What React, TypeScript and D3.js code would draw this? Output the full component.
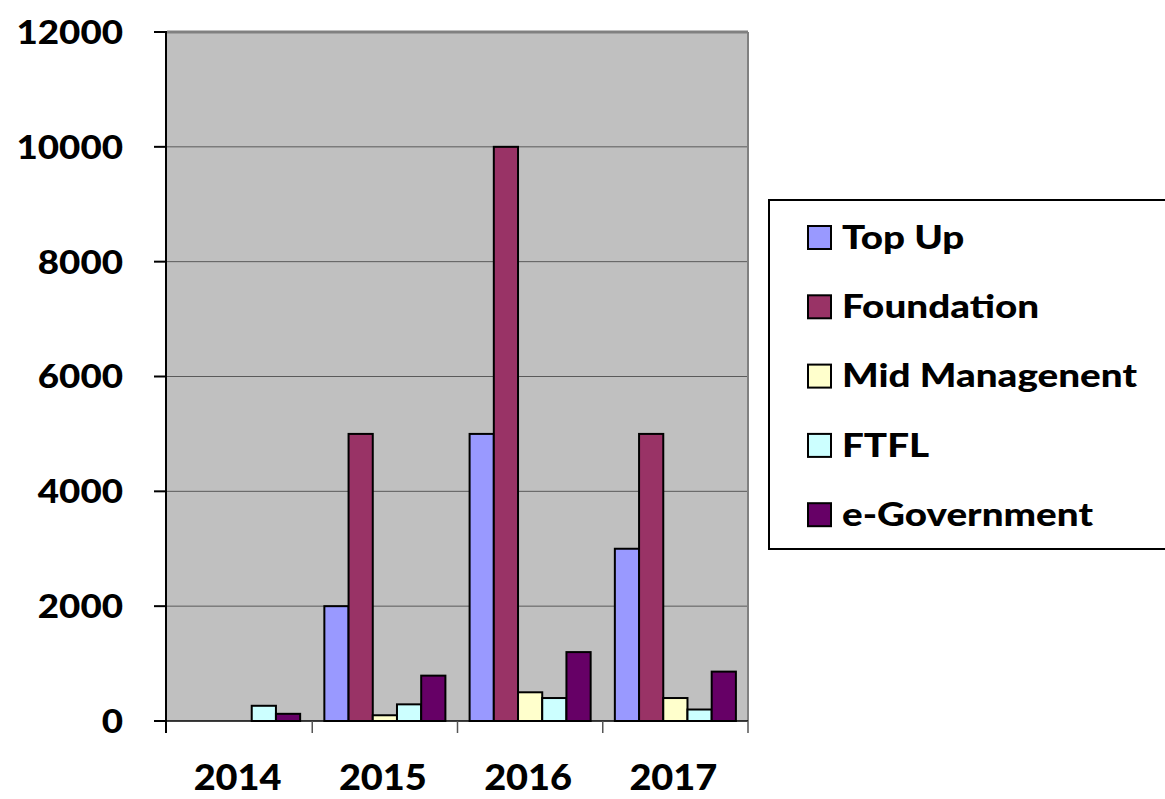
import React from "react";
import * as d3 from "d3";

const categories = ["2014", "2015", "2016", "2017"];
const seriesNames = ["Top Up", "Foundation", "Mid Managenent", "FTFL", "e-Government"];
const topUp = [0, 2000, 5000, 3000];
const foundation = [0, 5000, 10000, 5000];
const midManagement = [0, 100, 500, 400];
const ftfl = [265, 290, 400, 200];
const eGovernment = [125, 790, 1200, 860];
const yTicks = [0, 2000, 4000, 6000, 8000, 10000, 12000];
const colors = ["#9999FF", "#993366", "#FFFFCC", "#CCFFFF", "#660066"];

const seriesValues = [topUp, foundation, midManagement, ftfl, eGovernment];

export default function App() {
  const W = 1165, H = 799;
  const left = 167, right = 748, top = 32, bottom = 721;
  const x = d3.scaleBand<string>().domain(categories).range([left, right]);
  const inner = d3.scaleBand<number>().domain(d3.range(5)).range([0, x.bandwidth()]).paddingOuter(0.5).paddingInner(0);
  const y = d3.scaleLinear().domain([0, 12000]).range([bottom, top]);
  const font = "Lato, 'Open Sans', sans-serif";

  return (
    <svg width={W} height={H} style={{ position: "absolute", left: 0, top: 0, background: "#fff" }}>
      <rect x={left} y={top} width={right - left} height={bottom - top} fill="#C0C0C0" />
      {yTicks.filter(t => t > 0).map(t => (
        <line key={t} x1={left} x2={right} y1={y(t)} y2={y(t)} stroke={t === 12000 ? "#808080" : "#5a5a5a"} strokeWidth={t === 12000 ? 3 : 1} />
      ))}
      <line x1={right} x2={right} y1={top} y2={bottom} stroke="#808080" strokeWidth={2} />
      {categories.map((c, ci) =>
        seriesValues.map((vals, si) => {
          const v = vals[ci];
          if (!v) return null;
          const bx = (x(c) as number) + (inner(si) as number);
          return (
            <rect key={c + si} x={bx} y={y(v)} width={inner.bandwidth()} height={bottom - y(v)}
              fill={colors[si]} stroke="#000" strokeWidth={2} />
          );
        })
      )}
      <line x1={left - 1} x2={left - 1} y1={top} y2={bottom + 12} stroke="#000" strokeWidth={2} />
      <line x1={left - 13} x2={right} y1={bottom} y2={bottom} stroke="#000" strokeWidth={1.5} />
      {yTicks.map(t => (
        <g key={t}>
          <line x1={left - 13} x2={left} y1={y(t)} y2={y(t)} stroke="#000" strokeWidth={2} />
          <text x={123} y={y(t)} dy="0.36em" textAnchor="end" fontFamily={font} fontWeight={900} fontSize={33}
            textLength={String(t).length * 21.3} lengthAdjust="spacingAndGlyphs" fill="#000">{t}</text>
        </g>
      ))}
      {categories.map((c) => (
        <g key={c}>
          <line x1={(x(c) as number) + x.bandwidth()} x2={(x(c) as number) + x.bandwidth()} y1={bottom} y2={bottom + 12} stroke="#555" strokeWidth={1.5} />
          <text x={(x(c) as number) + x.bandwidth() / 2 - 2} y={777} dy="0.36em" textAnchor="middle" fontFamily={font} fontWeight={900} fontSize={36}
            textLength={88} lengthAdjust="spacingAndGlyphs" fill="#000">{c}</text>
        </g>
      ))}
      <rect x={769} y={200} width={420} height={349} fill="#fff" stroke="#000" strokeWidth={2} />
      {seriesNames.map((n, i) => {
        const cy = 237 + i * 69.3;
        return (
          <g key={n}>
            <rect x={808} y={cy - 11} width={23} height={23} fill={colors[i]} stroke="#000" strokeWidth={2} />
            <text transform={`translate(842,${cy}) scale(1.17,1)`} dy="0.36em" fontFamily={font} fontWeight={900} fontSize={33} fill="#000">{n}</text>
          </g>
        );
      })}
    </svg>
  );
}
